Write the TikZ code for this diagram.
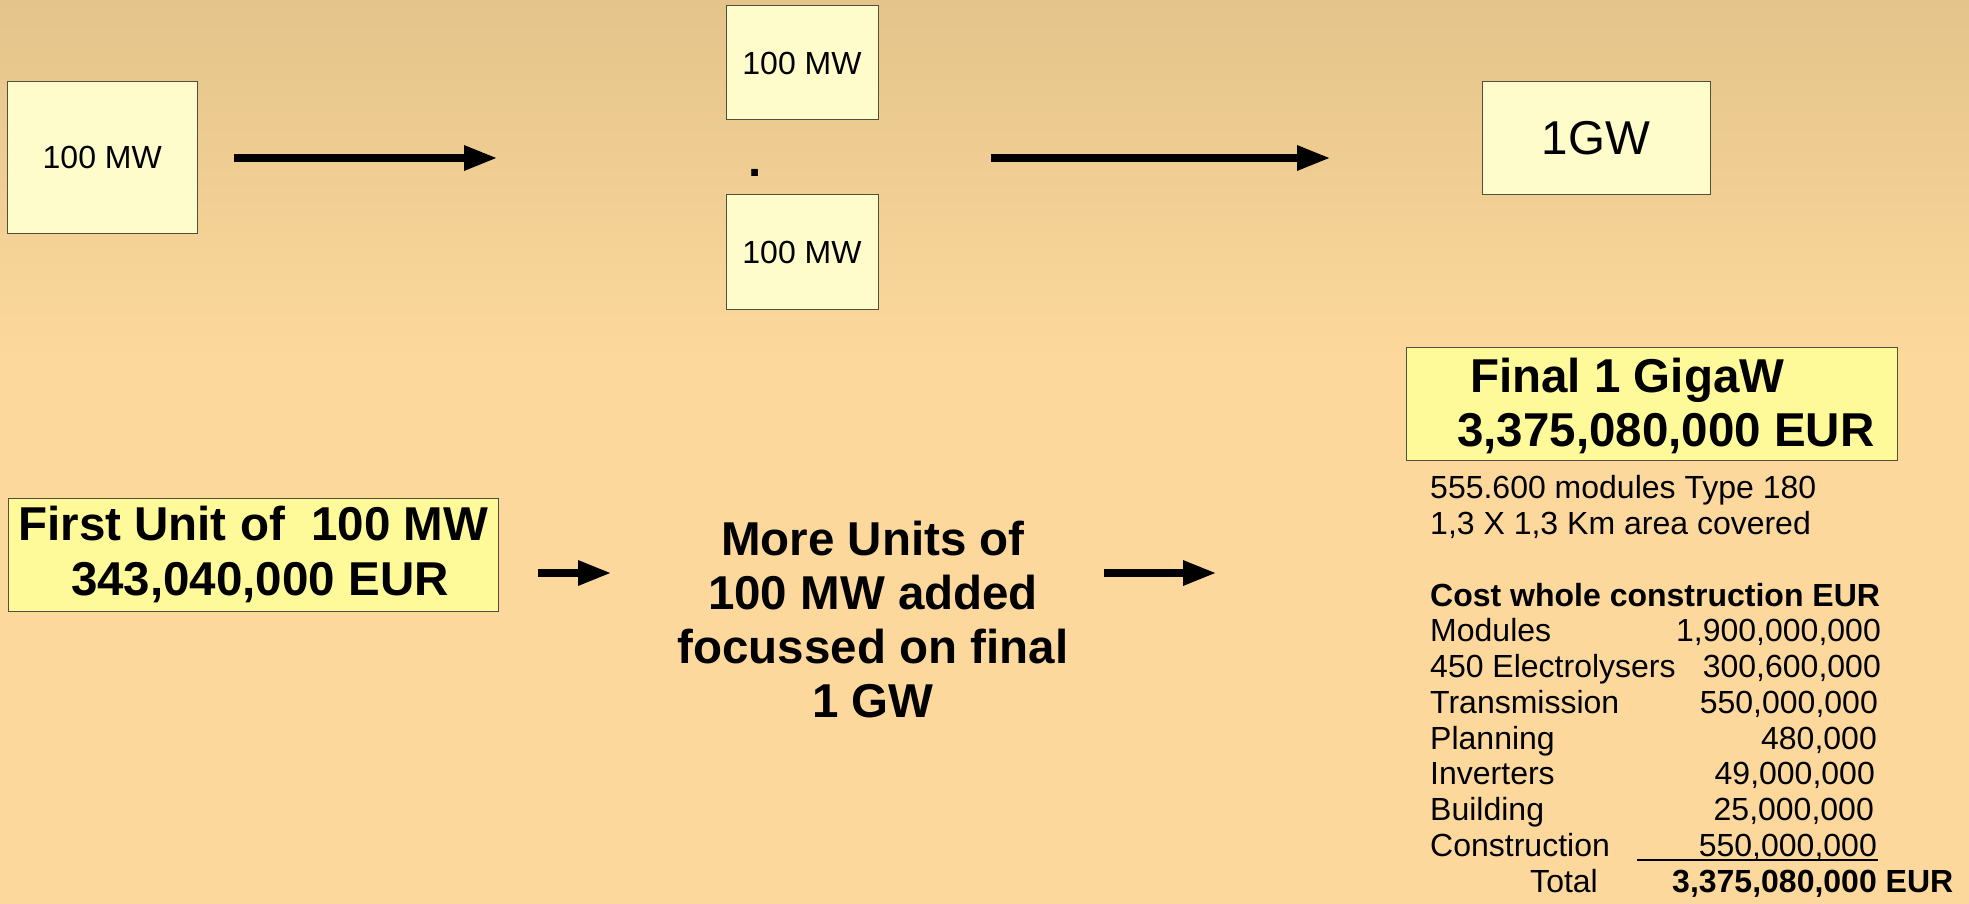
\documentclass[tikz,border=0pt]{standalone}
\usepackage{fontspec}
\setmainfont{Liberation Sans}
\usetikzlibrary{arrows.meta}
\definecolor{bgtop}{RGB}{228,196,138}
\definecolor{bgbot}{RGB}{252,216,156}
\definecolor{boxedge}{RGB}{80,80,60}
\tikzset{
  unitS/.style ={draw=boxedge, fill=yellow!20, line width=1pt, inner sep=0pt},
  sumS/.style  ={draw=boxedge, fill=yellow!40, line width=1pt, inner sep=0pt},
  flowS/.style ={line width=8.4pt, -{Triangle[length=34pt,width=23pt]}},
  smallT/.style={font=\fontsize{32}{36}\selectfont, inner sep=0pt},
  smallB/.style={font=\fontsize{32}{36}\selectfont\bfseries, inner sep=0pt},
  bigT/.style  ={font=\fontsize{47.5}{54}\selectfont},
  bigB/.style  ={font=\fontsize{47.5}{54}\selectfont\bfseries},
}

\begin{document}
\begin{tikzpicture}[x=1pt, y=-1pt]
  \useasboundingbox (0,0) rectangle (1969,904);
  \shade[top color=bgtop, bottom color=bgbot] (0,0) rectangle (1969,360);
  \fill[bgbot] (0,359) rectangle (1969,904);
  % top row
  \node[unitS, font=\fontsize{32}{36}\selectfont, minimum width=189.5pt, minimum height=151.5pt] (unitA) at (102.25,157.75) {100 MW};
  \node[unitS, font=\fontsize{32}{36}\selectfont, minimum width=152pt, minimum height=114pt] (unitB) at (802,63) {100 MW};
  \node[unitS, font=\fontsize{32}{36}\selectfont, minimum width=152pt, minimum height=114pt] (unitC) at (802,252) {100 MW};
  \node[bigB, inner sep=0pt, anchor=base] (gap) at (755.5,177) {.};
  \node[unitS, bigT, minimum width=228pt, minimum height=113pt] (giga) at (1596,138.5) {1GW};
  \coordinate (a1s) at (234,158);  \coordinate (a1e) at (498,158);
  \coordinate (a2s) at (991,158);  \coordinate (a2e) at (1331,158);
  \draw[flowS] (a1s) -- (a1e);
  \draw[flowS] (a2s) -- (a2e);
  % bottom row
  \node[sumS, font=\fontsize{47.5}{55}\selectfont\bfseries, align=center, minimum width=490.5pt, minimum height=113.5pt] (first) at (253.25,554.75) {First Unit of\ \ 100 MW\\\hspace*{0.28em}343,040,000 EUR};
  \node[bigB, align=center, anchor=north, inner sep=0pt] (more) at (873,520.5) {More Units of\\100 MW added\\focussed on final\\1 GW};
  \coordinate (a3s) at (538,573);  \coordinate (a3e) at (612,573);
  \coordinate (a4s) at (1104,573); \coordinate (a4e) at (1217,573);
  \draw[flowS] (a3s) -- (a3e);
  \draw[flowS] (a4s) -- (a4e);
  % final plant and costs
  \node[sumS, minimum width=491.5pt, minimum height=113pt] (final) at (1651.75,403.5) {};
  \node[bigB, anchor=base west, inner sep=0pt] (finalA) at (1470,392) {Final 1 GigaW};
  \node[bigB, anchor=base west, inner sep=0pt] (finalB) at (1457,446) {3,375,080,000 EUR};
  \node[smallT, anchor=base west] (modA) at (1430,498) {555.600 modules Type 180};
  \node[smallT, anchor=base west] (modB) at (1430,534) {1,3 X 1,3 Km area covered};
  \node[smallB, anchor=base west] (costH) at (1430,606) {Cost whole construction EUR};
  \foreach \lbl/\val/\xr [count=\i] in {Modules/{1,900,000,000}/1881, {450 Electrolysers}/{300,600,000}/1881,
      Transmission/{550,000,000}/1878, Planning/{480,000}/1877, Inverters/{49,000,000}/1875,
      Building/{25,000,000}/1874, Construction/{550,000,000}/1877}{
    \node[smallT, anchor=base west] (item\i) at (1430,606+35.75*\i) {\lbl};
    \node[smallT, anchor=base east] (cost\i) at (\xr,606+35.75*\i) {\val};
  }
  \draw[line width=1.5pt] (1637,860) -- (1878,860);
  \node[smallT, anchor=base west] (totL) at (1530,892) {Total};
  \node[smallB, anchor=base west] (totV) at (1672,892) {3,375,080,000 EUR};
\end{tikzpicture}
\end{document}
